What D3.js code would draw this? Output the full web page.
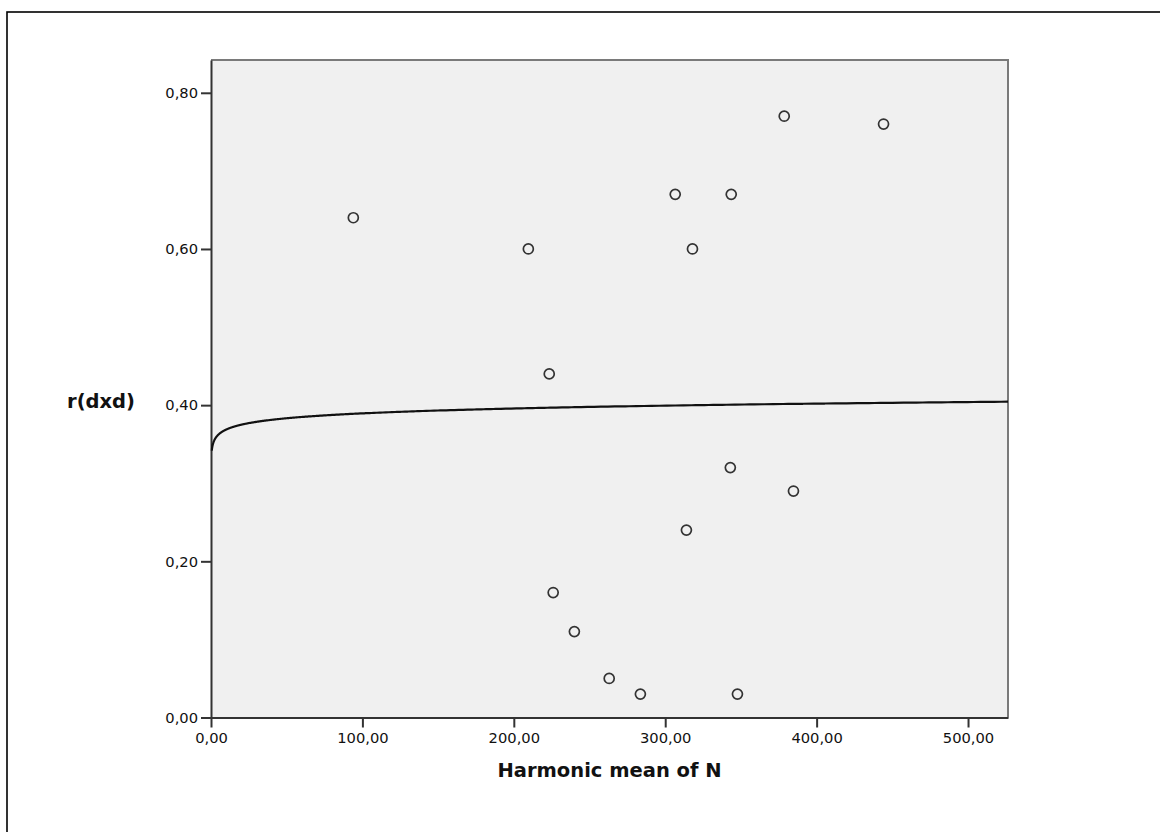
<!DOCTYPE html>
<html>
<head>
<meta charset="utf-8">
<script src="https://cdn.jsdelivr.net/npm/d3@7"></script>
<style>
  html, body { margin: 0; padding: 0; background: #fff; }
  svg { display: block; }
</style>
</head>
<body>
<svg id="chart" width="1160" height="832"></svg>
<script>
// Harmonic mean of N per study and the observed r(dxd)
const harmonicN = [94, 209.6, 223.4, 226, 240, 263, 283.6, 306.6, 318, 314, 343.6, 343, 347.7, 378.6, 384.7, 444.2];
const rdxd      = [0.64, 0.60, 0.44, 0.16, 0.11, 0.05, 0.03, 0.67, 0.60, 0.24, 0.67, 0.32, 0.03, 0.77, 0.29, 0.76];

const xTicks = [0, 100, 200, 300, 400, 500];
const yTicks = [0, 0.2, 0.4, 0.6, 0.8];
const xDomain = [0, 526.4];
const yDomain = [0, 0.842];
const xTitle = "Harmonic mean of N";
const yTitle = "r(dxd)";

const svg = d3.select("#chart");

// outer frame
svg.append("rect")
  .attr("x", 7).attr("y", 12)
  .attr("width", 1300).attr("height", 1000)
  .attr("fill", "none").attr("stroke", "#000").attr("stroke-width", 1.6);

const plot = { left: 211, top: 60, right: 1008, bottom: 717.5 };

const x = d3.scaleLinear().domain(xDomain).range([plot.left, plot.right]);
const y = d3.scaleLinear().domain(yDomain).range([plot.bottom, plot.top]);

// plot background
svg.append("rect")
  .attr("x", plot.left).attr("y", plot.top)
  .attr("width", plot.right - plot.left).attr("height", plot.bottom - plot.top)
  .attr("fill", "#f0f0f0");

// top and right edges of the data region
svg.append("path")
  .attr("d", `M${plot.left},${plot.top}H${plot.right}V${plot.bottom}`)
  .attr("fill", "none").attr("stroke", "#7a7a7a").attr("stroke-width", 2);

const fmt = v => d3.format(".2f")(v).replace(".", ",");

// axes
const xAxis = svg.append("g")
  .attr("transform", `translate(0,${plot.bottom})`)
  .call(d3.axisBottom(x).tickValues(xTicks).tickFormat(fmt).tickSize(10).tickSizeOuter(0).tickPadding(5));
const yAxis = svg.append("g")
  .attr("transform", `translate(${plot.left},0)`)
  .call(d3.axisLeft(y).tickValues(yTicks).tickFormat(fmt).tickSize(10).tickSizeOuter(0).tickPadding(3));

[xAxis, yAxis].forEach(g => {
  g.select(".domain").attr("stroke", "#333").attr("stroke-width", 2);
  g.selectAll(".tick line").attr("stroke", "#333").attr("stroke-width", 2);
  g.selectAll(".tick text")
    .attr("fill", "#111")
    .style("font-family", "'DejaVu Sans', Verdana, sans-serif")
    .style("font-size", "14.7px");
});

// logarithmic fit: r = a + b * ln(N), least squares over the points
const lx = harmonicN.map(Math.log);
const mx = d3.mean(lx), my = d3.mean(rdxd);
const b = d3.sum(lx, (v, i) => (v - mx) * (rdxd[i] - my)) / d3.sum(lx, v => (v - mx) * (v - mx));
const a = my - b * mx;

const fitStart = 0.5;
const fitX = d3.range(0, 400).map(i => Math.exp(Math.log(fitStart) + (Math.log(xDomain[1]) - Math.log(fitStart)) * i / 399));
svg.append("path")
  .datum(fitX)
  .attr("d", d3.line().x(d => x(d)).y(d => y(a + b * Math.log(d))).curve(d3.curveMonotoneX))
  .attr("fill", "none").attr("stroke", "#111").attr("stroke-width", 2.2);

// observations
svg.append("g").selectAll("circle")
  .data(harmonicN.map((n, i) => [n, rdxd[i]]))
  .join("circle")
  .attr("cx", d => x(d[0])).attr("cy", d => y(d[1]))
  .attr("r", 5)
  .attr("fill", "none").attr("stroke", "#333").attr("stroke-width", 1.7);

// axis titles
svg.append("text")
  .attr("x", (plot.left + plot.right) / 2).attr("y", 777)
  .attr("text-anchor", "middle")
  .style("font-family", "'DejaVu Sans', Verdana, sans-serif")
  .style("font-weight", "bold").style("font-size", "19.5px")
  .attr("fill", "#111")
  .text(xTitle);

svg.append("text")
  .attr("x", 101).attr("y", 408)
  .attr("text-anchor", "middle")
  .style("font-family", "'DejaVu Sans', Verdana, sans-serif")
  .style("font-weight", "bold").style("font-size", "19.5px")
  .attr("fill", "#111")
  .text(yTitle);
</script>
</body>
</html>
